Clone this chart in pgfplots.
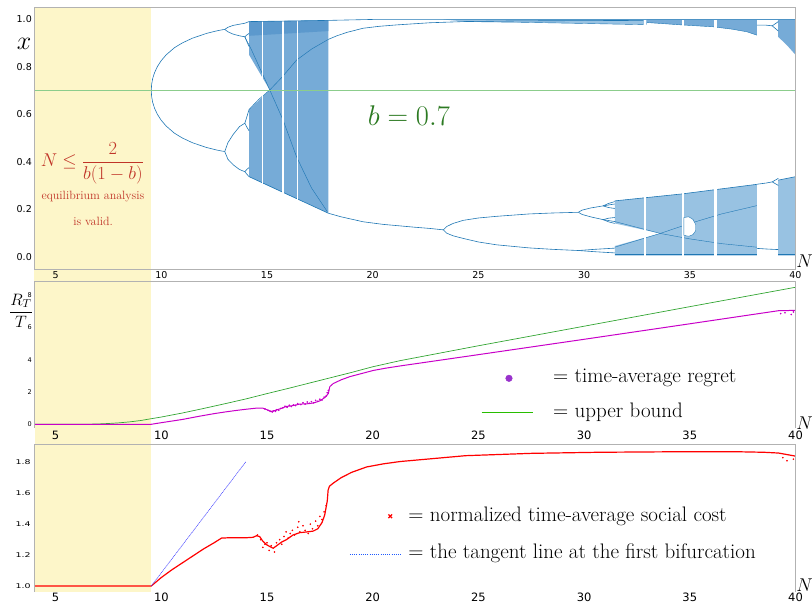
\RequirePackage{fix-cm}
\documentclass[border=0pt]{standalone}
\usepackage{pgfplots}
\pgfplotsset{compat=1.18}
\usepackage{fontspec}
\newfontfamily\dejavu{DejaVu Sans}
\definecolor{band}{RGB}{253,246,201}
\definecolor{tabblue}{RGB}{31,119,180}
\definecolor{chaos}{RGB}{118,171,215}
\definecolor{chaosd}{RGB}{92,153,205}
\definecolor{chaosl}{RGB}{152,194,226}
\definecolor{bline}{RGB}{140,205,140}
\definecolor{axgray}{RGB}{178,178,178}
\definecolor{redtxt}{RGB}{192,52,40}
\definecolor{bgreen}{RGB}{44,122,34}
\definecolor{ubgreen}{RGB}{50,165,50}
\definecolor{legreen}{RGB}{40,190,0}
\definecolor{regmag}{RGB}{200,0,200}
\definecolor{dotpurple}{RGB}{153,50,204}
\definecolor{tanblue}{RGB}{60,60,255}
\definecolor{legblue}{RGB}{30,90,255}
\pgfplotsset{
  panel/.style={
    scale only axis, width=761pt, xmin=4, xmax=40,
    anchor=south west, clip mode=individual, axis on top,
    axis line style={draw=none}, major tick length=0pt,
    xtick={5,10,15,20,25,30,35,40},
    /pgf/number format/assume math mode=true,
  },
  bl/.style={tabblue, line width=0.6pt, no markers},
  ch/.style={fill=chaos, draw=none, no markers},
  win/.style={fill=white, draw=none, no markers},
}
\begin{document}
\begin{tikzpicture}
\useasboundingbox (0pt,0pt) rectangle (812pt,603pt);
% ================= TOP PANEL =================
\begin{axis}[panel, at={(34.5pt,334pt)}, height=261.5pt,
  ymin=-0.0518, ymax=1.0493, ytick={0,0.2,0.4,0.6,0.8,1.0},
  y tick label style={/pgf/number format/fixed,/pgf/number format/fixed zerofill,/pgf/number format/precision=1},
  yticklabel style={font=\dejavu\fontsize{9.5}{11}\selectfont, inner sep=2.5pt},
  xticklabel style={font=\dejavu\fontsize{9.5}{11}\selectfont, inner sep=2pt}]
\fill[band] (axis cs:4,1.0493) rectangle (axis cs:9.524,-0.1023);
% chaotic regions
\addplot[ch] coordinates {(14.15,0.62)(14.15,0.337)(15.0,0.301)(16.0,0.26)(17.0,0.22)(17.9,0.183)(17.9,0.995)(14.15,0.99)(14.15,0.85)(15.13,0.702)};
\addplot[fill=chaosd, draw=none] coordinates {(14.15,0.93)(17.9,0.95)(17.9,0.995)(14.15,0.99)};
\addplot[fill=chaosl, draw=none] coordinates {(31.45,0.14)(31.45,0.235)(34.6,0.264)(38.2,0.305)(40,0.337)(40,0.005)(31.45,0.005)(31.45,0.045)(33.6,0.098)};
\addplot[ch] coordinates {(32.97,0.999)(40,0.999)(40,0.85)(39.6,0.89)(39.19,0.925)(38.17,0.933)(37.7,0.947)(37.0,0.958)(36.1,0.968)(34.6,0.976)(32.97,0.986)};
\addplot[fill=chaosl, draw=none] coordinates {(23.34,0.999)(32.97,0.999)(32.97,0.977)(30,0.982)(27,0.987)(24.3,0.99)};
% edges and inner curves
\addplot[bl] coordinates {(14.15,0.337)(17.9,0.183)};
\addplot[bl, line width=0.45pt] coordinates {(13.95,0.926)(14.27,0.87)(15.13,0.702)(15.76,0.575)(16.4,0.42)(17.1,0.29)(17.85,0.19)};
\addplot[bl, line width=0.45pt] coordinates {(14.15,0.62)(14.6,0.662)(15.13,0.702)(15.7,0.755)(16.4,0.828)(17.12,0.875)(17.9,0.915)};
\addplot[bl] coordinates {(31.45,0.235)(34.6,0.264)(38.2,0.305)(40,0.337)};
\addplot[bl] coordinates {(31.45,0.008)(40,0.008)};
\addplot[bl, line width=0.4pt] coordinates {(31.45,0.148)(33.6,0.098)(35,0.075)(36.5,0.055)(38.17,0.04)};
\addplot[bl, line width=0.4pt] coordinates {(31.45,0.04)(33.6,0.098)(35,0.14)(36.5,0.18)(38.17,0.215)};
\addplot[bl, line width=0.4pt] coordinates {(32.97,0.986)(34.6,0.976)(36.1,0.968)(37.0,0.958)(37.7,0.947)(38.17,0.933)};
% periodic windows
\addplot[win] coordinates {(14.765,0.15)(14.765,0.997)(14.785,0.997)(14.785,0.15)};
\addplot[win] coordinates {(15.72,0.15)(15.72,0.997)(15.78,0.997)(15.78,0.15)};
\addplot[win] coordinates {(16.44,0.15)(16.44,0.997)(16.48,0.997)(16.48,0.15)};
\addplot[win] coordinates {(32.84,0.0)(32.84,0.9985)(32.94,0.9985)(32.94,0.0)};
\addplot[win] coordinates {(34.62,0.0)(34.62,0.9985)(34.71,0.9985)(34.71,0.0)};
\addplot[win] coordinates {(36.14,0.0)(36.14,0.9985)(36.29,0.9985)(36.29,0.0)};
\addplot[win] coordinates {(38.17,0.0)(38.17,0.9985)(39.19,0.9985)(39.19,0.0)};
\addplot[fill=white, draw=tabblue, line width=0.4pt] coordinates {(34.72,0.09)(34.72,0.165)(34.95,0.168)(35.15,0.157)(35.28,0.135)(35.28,0.11)(35.15,0.093)(34.95,0.086)} -- cycle;
% fixed point, period 2, 4, 8
\addplot[bl] coordinates {(4,0.7)(9.524,0.7)};
\addplot[bl] coordinates {(9.524,0.7)(9.54,0.725)(9.59,0.75)(9.68,0.775)(9.81,0.80)(9.99,0.825)(10.23,0.85)(10.62,0.88)(10.99,0.90)(11.47,0.92)(12.13,0.94)(12.58,0.95)(12.85,0.955)(13.0,0.957)};
\addplot[bl] coordinates {(9.524,0.7)(9.54,0.675)(9.59,0.65)(9.68,0.625)(9.81,0.60)(9.99,0.575)(10.23,0.55)(10.62,0.52)(10.99,0.50)(11.47,0.48)(12.13,0.46)(12.58,0.45)(12.85,0.445)(13.0,0.443)};
\addplot[bl] coordinates {(13.0,0.957)(13.15,0.966)(13.4,0.974)(13.7,0.979)(13.95,0.983)(14.15,0.99)};
\addplot[bl] coordinates {(13.0,0.957)(13.15,0.947)(13.4,0.937)(13.7,0.93)(13.95,0.926)};
\addplot[bl] coordinates {(13.0,0.443)(13.15,0.48)(13.4,0.515)(13.7,0.548)(13.95,0.562)};
\addplot[bl] coordinates {(13.0,0.443)(13.15,0.41)(13.4,0.387)(13.7,0.367)(13.95,0.358)};
\addplot[bl] coordinates {(13.95,0.926)(14.05,0.934)(14.15,0.94)};
\addplot[bl] coordinates {(13.95,0.926)(14.05,0.905)(14.15,0.885)};
\addplot[bl] coordinates {(13.95,0.562)(14.05,0.59)(14.15,0.62)};
\addplot[bl] coordinates {(13.95,0.562)(14.05,0.545)(14.15,0.53)};
\addplot[bl] coordinates {(13.95,0.358)(14.05,0.368)(14.15,0.375)};
\addplot[bl] coordinates {(13.95,0.358)(14.05,0.347)(14.15,0.337)};
% after the crisis: period 3 and its doublings
\addplot[bl] coordinates {(14.15,0.99)(17.9,0.995)(20,0.999)(40,0.999)};
\addplot[bl] coordinates {(17.9,0.915)(18.3,0.93)(18.8,0.945)(19.55,0.962)(20.3,0.970)(21.13,0.976)(22.7,0.985)(24.3,0.99)(27,0.993)(30,0.994)(32.8,0.995)};
\addplot[bl, line width=0.4pt] coordinates {(24.3,0.99)(27,0.987)(30,0.982)(32.8,0.977)};
\addplot[bl] coordinates {(17.9,0.183)(18.5,0.168)(19.55,0.147)(20.5,0.136)(21.13,0.131)(22.0,0.124)(22.7,0.119)(23.34,0.113)};
\addplot[bl] coordinates {(23.34,0.113)(23.5,0.127)(23.8,0.14)(24.28,0.153)(25.0,0.163)(25.86,0.170)(27.4,0.180)(28.5,0.184)(29.73,0.187)};
\addplot[bl] coordinates {(23.34,0.113)(23.5,0.099)(23.8,0.088)(24.28,0.077)(25.0,0.062)(25.86,0.050)(27.4,0.037)(28.5,0.031)(29.73,0.026)};
\addplot[bl] coordinates {(29.73,0.187)(29.9,0.196)(30.3,0.205)(30.9,0.214)(31.45,0.222)};
\addplot[bl] coordinates {(29.73,0.187)(29.9,0.178)(30.3,0.168)(30.9,0.156)(31.45,0.148)};
\addplot[bl] coordinates {(30.9,0.214)(31.15,0.224)(31.45,0.232)};
\addplot[bl] coordinates {(30.9,0.214)(31.15,0.207)(31.45,0.203)};
\addplot[bl] coordinates {(30.9,0.156)(31.15,0.162)(31.45,0.165)};
\addplot[bl] coordinates {(30.9,0.156)(31.15,0.147)(31.45,0.14)};
\addplot[bl] coordinates {(29.73,0.026)(30.5,0.031)(31.45,0.036)};
\addplot[bl] coordinates {(29.73,0.026)(30.5,0.021)(31.45,0.016)};
% inside the large window
\addplot[bl] coordinates {(38.17,0.305)(38.6,0.31)(38.9,0.315)(39.19,0.33)};
\addplot[bl] coordinates {(38.9,0.315)(39.19,0.30)};
\addplot[bl] coordinates {(38.17,0.035)(38.7,0.032)(39.19,0.03)};
\addplot[bl] coordinates {(38.17,0.975)(38.6,0.975)(38.9,0.972)(39.19,0.99)};
\addplot[bl] coordinates {(38.9,0.972)(39.19,0.95)};
% b line
\addplot[bline, line width=0.9pt] coordinates {(4,0.7)(40,0.7)};
\node[bgreen, anchor=base] at (axis cs:21.71,0.5545) {\fontsize{28.5}{32}\selectfont$b=0.7$};
\node[redtxt, anchor=base] at (axis cs:6.735,0.379) {\fontsize{18.5}{22}\selectfont$\displaystyle N\leq\frac{2}{b(1-b)}$};
\node[redtxt, anchor=base, inner sep=0pt] at (axis cs:6.76,0.2417) {\fontsize{12}{14}\selectfont equilibrium analysis};
\node[redtxt, anchor=base, inner sep=0pt] at (axis cs:6.77,0.132) {\fontsize{12}{14}\selectfont is valid.};
\draw[axgray, line width=0.8pt] (rel axis cs:0,0) rectangle (rel axis cs:1,1);
\end{axis}
% ================= MIDDLE PANEL =================
\begin{axis}[panel, at={(34.5pt,175pt)}, height=147pt,
  ymin=-0.229, ymax=8.868, ytick={0,2,4,6,8},
  yticklabel style={font=\dejavu\fontsize{6.5}{8}\selectfont, inner sep=2.5pt},
  xticklabel style={font=\dejavu\fontsize{11.5}{13}\selectfont, inner sep=3pt}]
\fill[band] (axis cs:4,8.868) rectangle (axis cs:9.524,-1.219);
\addplot[ubgreen, line width=0.7pt] coordinates {(4,0)(6,0)(6.5,0.005)(7,0.02)(7.5,0.05)(8,0.09)(8.5,0.15)(9,0.23)(9.5,0.34)(10,0.45)(11,0.7)(12,0.98)(13,1.27)(14,1.57)(15,1.9)(16,2.22)(17,2.55)(18,2.88)(19,3.21)(20,3.56)(21.3,3.94)(25,4.86)(30,6.07)(35,7.28)(40,8.48)};
\addplot[regmag, line width=1pt] coordinates {(4,0)(9.52,0)(10,0.1)(10.5,0.2)(11,0.3)(11.8,0.5)(12.5,0.66)(13,0.76)(13.5,0.85)(14,0.93)(14.5,1.0)(14.8,1.0)(15.0,0.9)(15.2,0.8)(15.35,0.84)(15.6,0.95)(15.9,1.1)(16.2,1.15)(16.55,1.25)(16.9,1.27)(17.2,1.32)(17.5,1.45)(17.73,1.65)(17.9,1.9)(17.97,2.33)(18.13,2.52)(18.5,2.75)(18.92,2.95)(19.5,3.15)(20.02,3.33)(20.6,3.47)(21.29,3.61)(25,4.31)(30,5.26)(35,6.22)(38,6.8)(39.2,7.03)(40,7.05)};
\addplot[only marks, mark=*, mark size=0.6pt, regmag] coordinates {(14.9,0.95)(15.05,0.86)(15.15,0.8)(15.25,0.76)(15.3,0.83)(15.4,0.8)(15.45,0.9)(15.55,0.87)(15.65,0.98)(15.75,1.02)(15.85,1.12)(15.95,1.05)(16.05,1.18)(16.15,1.1)(16.25,1.2)(16.35,1.16)(16.45,1.28)(16.6,1.22)(16.7,1.33)(16.8,1.25)(16.9,1.38)(17.0,1.3)(17.1,1.4)(17.2,1.33)(17.3,1.48)(17.4,1.42)(17.5,1.55)(17.6,1.5)(17.7,1.68)(17.8,1.75)(17.85,1.95)(17.9,2.1)(39.3,6.85)(39.5,6.9)(39.8,6.8)(39.9,6.95)};
\addplot[only marks, mark=*, mark size=3.3pt, dotpurple] coordinates {(26.446,2.846)};
\addplot[legreen, line width=1.2pt] coordinates {(25.15,0.718)(27.57,0.718)};
\node[anchor=base west, inner sep=0pt] at (axis cs:28.53,2.574) {\fontsize{21}{25}\selectfont$=$ time-average regret};
\node[anchor=base west, inner sep=0pt] at (axis cs:28.53,0.408) {\fontsize{21}{25}\selectfont$=$ upper bound};
\draw[axgray, line width=0.8pt] (rel axis cs:0,0) -- (rel axis cs:0,1) -- (rel axis cs:1,1) -- (rel axis cs:1,0);
\end{axis}
% ================= BOTTOM PANEL =================
\begin{axis}[panel, at={(34.5pt,11pt)}, height=148pt,
  ymin=0.9612, ymax=1.9185, ytick={1.0,1.2,1.4,1.6,1.8},
  y tick label style={/pgf/number format/fixed,/pgf/number format/fixed zerofill,/pgf/number format/precision=1},
  yticklabel style={font=\dejavu\fontsize{6.5}{8}\selectfont, inner sep=2.5pt, xscale=1.45},
  xticklabel style={font=\dejavu\fontsize{11.5}{13}\selectfont, inner sep=1pt}]
\fill[band] (axis cs:4,1.9185) rectangle (axis cs:9.524,0.9612);
\addplot[red, line width=1.2pt] coordinates {(4,1.0)(9.524,1.0)(10,1.055)(10.5,1.105)(11,1.15)(11.5,1.195)(12,1.24)(12.5,1.28)(12.85,1.31)(13.2,1.312)(14.0,1.312)(14.34,1.315)(14.5,1.325)(14.65,1.32)(14.8,1.29)(15.0,1.265)(15.29,1.244)(15.5,1.265)(15.7,1.285)(15.92,1.30)(16.23,1.33)(16.55,1.345)(16.9,1.35)(17.18,1.355)(17.4,1.37)(17.6,1.41)(17.73,1.46)(17.85,1.55)(17.89,1.62)(17.95,1.645)(18.13,1.665)(18.5,1.70)(19,1.735)(19.71,1.77)(20.5,1.79)(21.29,1.805)(24.4,1.843)(27.5,1.858)(30.7,1.865)(34,1.868)(37,1.869)(38.5,1.865)(39.2,1.86)(40,1.84)};
\addplot[only marks, mark=*, mark size=0.6pt, red] coordinates {(14.55,1.33)(14.7,1.30)(14.8,1.25)(14.9,1.27)(15.0,1.28)(15.1,1.23)(15.2,1.26)(15.35,1.22)(15.45,1.28)(15.6,1.30)(15.7,1.27)(15.8,1.32)(15.9,1.35)(16.0,1.31)(16.1,1.34)(16.2,1.36)(16.3,1.33)(16.45,1.38)(16.5,1.416)(16.55,1.35)(16.7,1.39)(16.8,1.36)(16.95,1.34)(17.05,1.40)(17.15,1.37)(17.3,1.42)(17.4,1.39)(17.5,1.45)(17.6,1.43)(17.7,1.48)(17.8,1.52)(39.4,1.83)(39.6,1.81)(39.9,1.82)};
\addplot[tanblue, line width=0.5pt, dash pattern=on 1.2pt off 0.6pt] coordinates {(9.524,1.0)(14.0,1.804)};
\addplot[only marks, mark=x, mark size=2.6pt, red, line width=1.3pt] coordinates {(20.83,1.451)};
\addplot[legblue, line width=1.1pt, dash pattern=on 1pt off 1.2pt] coordinates {(18.92,1.205)(21.38,1.205)};
\node[anchor=base west, inner sep=0pt] at (axis cs:21.68,1.416) {\fontsize{21}{25}\selectfont$=$ normalized time-average social cost};
\node[anchor=base west, inner sep=0pt] at (axis cs:21.68,1.179) {\fontsize{21}{25}\selectfont$=$ the tangent line at the first bifurcation};
\draw[axgray, line width=0.8pt] (rel axis cs:0,0) -- (rel axis cs:0,1) -- (rel axis cs:1,1) -- (rel axis cs:1,0);
\end{axis}
% ================= axis titles =================
\node at (24pt,559pt) {\fontsize{26}{30}\selectfont$x$};
\node at (21pt,292pt) {\fontsize{16.5}{20}\selectfont$\displaystyle\frac{R_T}{T}$};
\node[inner sep=0pt] at (804.5pt,341.5pt) {\fontsize{18.5}{22}\selectfont$N$};
\node[inner sep=0pt] at (804.5pt,179.5pt) {\fontsize{18.5}{22}\selectfont$N$};
\node[inner sep=0pt] at (804.5pt,18pt) {\fontsize{18.5}{22}\selectfont$N$};
\end{tikzpicture}
\end{document}
